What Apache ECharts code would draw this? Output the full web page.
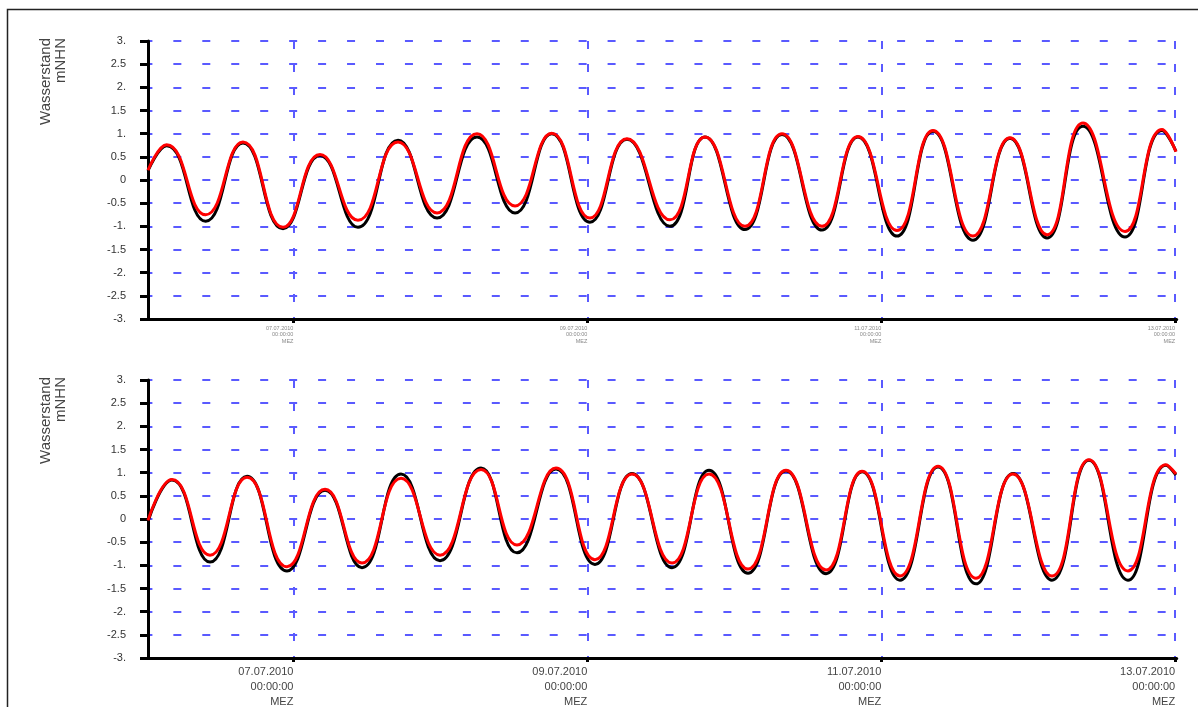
<!DOCTYPE html>
<html>
<head>
<meta charset="utf-8">
<script src="https://cdn.jsdelivr.net/npm/echarts@6/dist/echarts.min.js"></script>
<style>
  html, body { margin: 0; padding: 0; background: #fff; }
  #chart { width: 1198px; height: 707px; }
</style>
</head>
<body>
<div id="chart"></div>
<script>
// Water level (Wasserstand, m NHN), 06.07.2010 – 13.07.2010.
// Time is given in hours since 06.07.2010 00:00 MEZ.

// Upper panel: times of the turning points and the two gauges' levels
const upperHours = [0.25, 3.30, 9.67, 15.76, 22.30, 28.34, 34.54, 41.08, 47.45, 53.98,
  60.19, 66.18, 72.43, 78.47, 85.49, 91.21, 97.74, 103.79, 110.32, 116.20,
  122.57, 128.45, 134.98, 141.02, 147.07, 152.95, 159.81, 165.85, 168.13];
const upperBlack = [0.20, 0.74, -0.89, 0.80, -1.05, 0.53, -1.02, 0.86, -0.82, 0.93,
  -0.71, 1.00, -0.91, 0.88, -1.00, 0.93, -1.07, 0.98, -1.08, 0.93,
  -1.21, 1.05, -1.30, 0.90, -1.25, 1.16, -1.23, 1.07, 0.62];
const upperRed = [0.21, 0.76, -0.75, 0.82, -1.02, 0.55, -0.87, 0.82, -0.71, 1.00,
  -0.56, 1.01, -0.82, 0.89, -0.86, 0.93, -1.00, 1.00, -1.00, 0.94,
  -1.09, 1.07, -1.21, 0.91, -1.18, 1.23, -1.11, 1.09, 0.61];

// Lower panel
const lowerHours = [0.25, 4.17, 10.38, 16.42, 22.95, 29.16, 35.20, 41.57, 47.94, 54.64,
  60.51, 66.88, 73.25, 79.29, 85.83, 91.87, 98.24, 104.44, 110.98, 116.86,
  123.06, 129.27, 135.47, 141.51, 147.88, 153.92, 160.29, 166.50, 168.13];
const lowerBlack = [-0.05, 0.84, -0.93, 0.92, -1.12, 0.62, -1.05, 0.97, -0.90, 1.10,
  -0.73, 1.08, -0.98, 0.98, -1.05, 1.05, -1.17, 1.04, -1.18, 1.02,
  -1.32, 1.12, -1.40, 0.98, -1.32, 1.27, -1.32, 1.16, 0.95];
const lowerRed = [-0.03, 0.85, -0.78, 0.90, -1.03, 0.64, -0.95, 0.88, -0.78, 1.07,
  -0.56, 1.10, -0.88, 0.97, -0.95, 0.97, -1.08, 1.05, -1.10, 1.03,
  -1.23, 1.14, -1.28, 0.97, -1.23, 1.28, -1.12, 1.17, 0.97];

// Axis ticks
const tickHours = [24, 72, 120, 168];
const tickDates = ['07.07.2010', '09.07.2010', '11.07.2010', '13.07.2010'];
const levelMin = -3, levelMax = 3, levelStep = 0.5;
const timeMin = 0.25, timeMax = 168.25;

const FONT = 'Liberation Sans, Arial, sans-serif';
const GRID_BLUE = '#5a5aff';

function pairs(xs, ys) { return xs.map((x, i) => [x, ys[i]]); }

function levelLabel(v) {
  if (v === 0) return '0';
  return Number.isInteger(v) ? v + '.' : String(v);
}

function timeLabel(v) {
  const i = tickHours.indexOf(Math.round(v));
  return i < 0 ? '' : tickDates[i] + '\n00:00:00\nMEZ';
}

function makeXAxis(gridIndex, fontSize, lineHeight, color, margin) {
  return {
    type: 'value', gridIndex, min: timeMin, max: timeMax,
    axisLine: { show: true, onZero: false, lineStyle: { color: '#000', width: 3 } },
    axisTick: { show: true, customValues: tickHours, length: 4, lineStyle: { color: '#000', width: 3 } },
    axisLabel: {
      customValues: tickHours, formatter: timeLabel, align: 'right',
      fontFamily: FONT, fontSize, lineHeight, color, margin
    },
    splitLine: { show: true, lineStyle: { color: GRID_BLUE, width: 2, type: [8, 15] } }
  };
}

function makeYAxis(gridIndex) {
  return {
    type: 'value', gridIndex, min: levelMin, max: levelMax, interval: levelStep,
    axisLine: { show: true, onZero: false, lineStyle: { color: '#000', width: 3 } },
    axisTick: { show: true, length: 8, lineStyle: { color: '#000', width: 3 } },
    axisLabel: { formatter: levelLabel, fontFamily: FONT, fontSize: 11, color: '#333', margin: 22 },
    splitLine: { show: true, lineStyle: { color: GRID_BLUE, width: 2, type: [8, 20.95], dashOffset: 3.6 } }
  };
}

function lineSeries(idx, data, color, z) {
  return {
    type: 'line', xAxisIndex: idx, yAxisIndex: idx, data,
    showSymbol: false, smooth: 0.5, z,
    lineStyle: { color, width: 3 }
  };
}

function axisTitle(top) {
  return {
    type: 'text', x: 38, y: top, rotation: Math.PI / 2,
    style: {
      text: 'Wasserstand\nmNHN', fontFamily: FONT, fontSize: 15, lineHeight: 15,
      fill: '#444', align: 'right', verticalAlign: 'top'
    }
  };
}

const chart = echarts.init(document.getElementById('chart'), null, { renderer: 'canvas' });
chart.setOption({
  animation: false,
  backgroundColor: '#fff',
  grid: [
    { left: 148, right: 21.3, top: 41, height: 278, containLabel: false, outerBoundsMode: 'none' },
    { left: 148, right: 21.3, top: 380, height: 278, containLabel: false, outerBoundsMode: 'none' }
  ],
  xAxis: [
    makeXAxis(0, 5.5, 6.5, '#888', 6),
    makeXAxis(1, 11, 15, '#444', 6)
  ],
  yAxis: [makeYAxis(0), makeYAxis(1)],
  series: [
    lineSeries(0, pairs(upperHours, upperBlack), '#000', 2),
    lineSeries(0, pairs(upperHours, upperRed), '#ff0000', 3),
    lineSeries(1, pairs(lowerHours, lowerBlack), '#000', 2),
    lineSeries(1, pairs(lowerHours, lowerRed), '#ff0000', 3)
  ],
  graphic: [
    {
      type: 'rect', shape: { x: 7.5, y: 9.5, width: 1300, height: 800 },
      style: { fill: 'none', stroke: '#222', lineWidth: 1.5 }, silent: true
    },
    axisTitle(38),
    axisTitle(377)
  ]
});
</script>
</body>
</html>
